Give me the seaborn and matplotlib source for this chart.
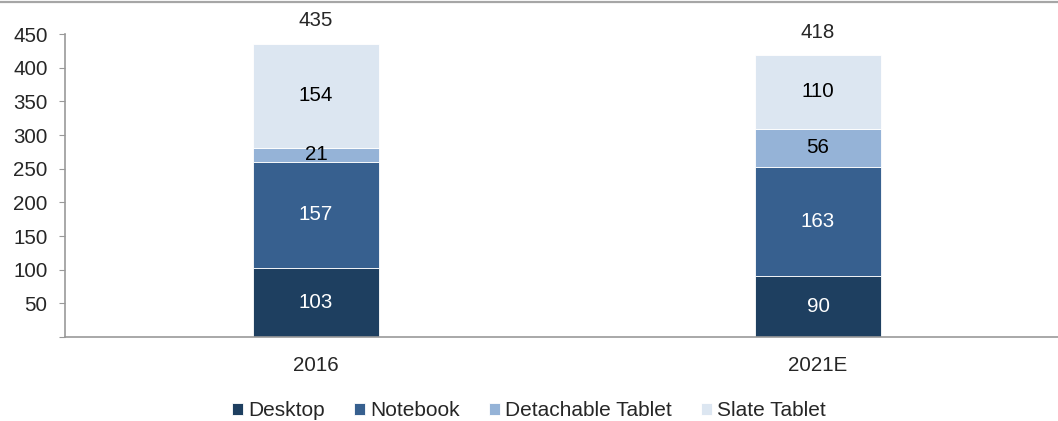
import matplotlib
matplotlib.use('Agg')
import matplotlib.pyplot as plt
from matplotlib.lines import Line2D
import numpy as np
import seaborn as sns

# data
years = ['2016', '2021E']
desktop = [103, 90]
notebook = [157, 163]
detachable = [21, 56]
slate = [154, 110]
totals = [435, 418]

series = [('Desktop', desktop, '#1e3f60', 'white'),
          ('Notebook', notebook, '#37608f', 'white'),
          ('Detachable Tablet', detachable, '#95b3d7', 'black'),
          ('Slate Tablet', slate, '#dce6f1', 'black')]

FS = 14.8

sns.set_style('white')
plt.rcParams['font.family'] = ['Liberation Sans', 'DejaVu Sans']
plt.rcParams['font.size'] = FS

fig = plt.figure(figsize=(10.58, 4.21), dpi=100)
ax = fig.add_axes([0.0614, 0.1995, 0.9386, 0.7197])

bottom = np.zeros(len(years))
for name, vals, col, tcol in series:
    sns.barplot(x=years, y=vals, bottom=bottom, color=col, width=0.25,
                saturation=1, edgecolor='white', linewidth=0.6, ax=ax,
                label=name)
    for i, v in enumerate(vals):
        ax.text(i, bottom[i] + v / 2, str(v), ha='center', va='center',
                color=tcol, fontsize=FS)
    bottom = bottom + np.array(vals)

for i, t in enumerate(totals):
    ax.annotate(str(t), (i, t), xytext=(0, 10), textcoords='offset points',
                ha='center', va='bottom', fontsize=FS)

ax.set_ylim(0, 450)
ax.set_xlim(-0.5, 1.478)
ax.set_yticks(range(0, 451, 50))
ax.set_yticklabels([''] + [str(v) for v in range(50, 451, 50)])
for s in ['top', 'right']:
    ax.spines[s].set_visible(False)
for s in ['left', 'bottom']:
    ax.spines[s].set_color('#999999')
    ax.spines[s].set_linewidth(1.2)
ax.tick_params(axis='y', left=True, length=4.5, color='#999999', pad=8,
               labelsize=FS)
ax.tick_params(axis='x', bottom=False, pad=10, labelsize=FS)
ax.set_xlabel('')
ax.set_ylabel('')

if ax.legend_:
    ax.legend_.remove()
handles, labels = ax.get_legend_handles_labels()
fig.legend(handles, labels, loc='center', bbox_to_anchor=(0.500, 0.024),
           ncol=4, frameon=False, handlelength=0.53, handleheight=0.53,
           handletextpad=0.25, columnspacing=1.4, fontsize=15)

# grey rule across the top
fig.add_artist(Line2D([0, 1], [0.996, 0.996], color='#a6a6a6', lw=1.6,
                      transform=fig.transFigure))

fig.savefig('out.png', dpi=100)
